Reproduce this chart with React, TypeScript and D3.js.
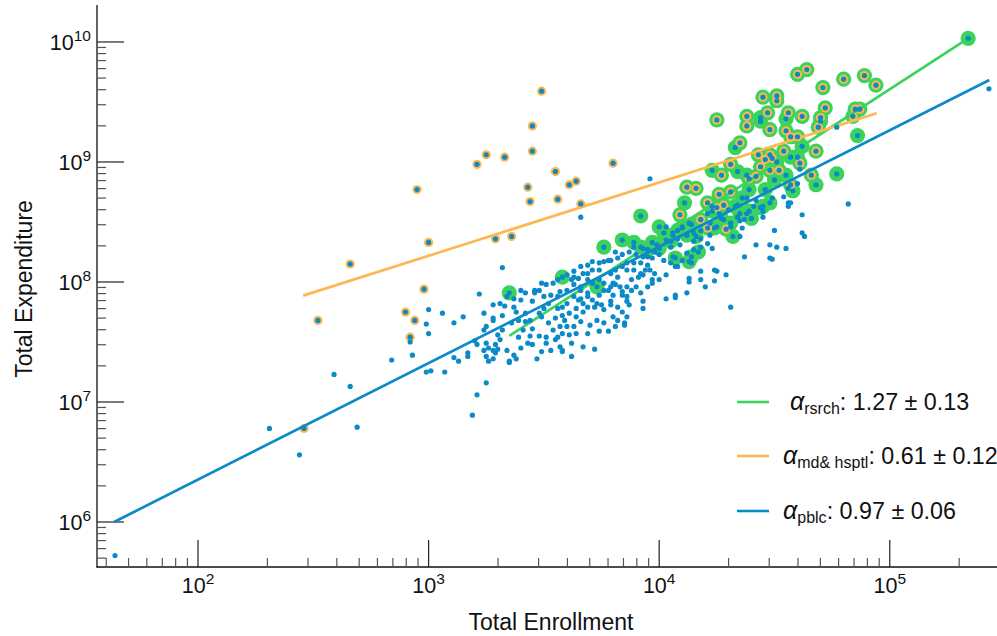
import React, {useEffect, useRef} from 'react'
import * as d3 from 'd3'

// every point is [log10 enrollment, log10 expenditure]

// plain public institutions (blue dot only)
const publicPts: number[][] = [
  [1.64, 5.72], [2.31, 6.78], [2.44, 6.56], [2.59, 7.23], [2.66, 7.13], [2.69, 6.79], [2.84, 7.35],
  [2.93, 7.39], [2.92, 7.5], [2.99, 7.65], [3.0, 7.57], [3.0, 7.77], [2.99, 7.25], [3.01, 7.26],
  [3.06, 7.74], [3.11, 7.66], [3.15, 7.71], [3.07, 7.25], [3.11, 7.37], [3.13, 7.34], [3.17, 7.41],
  [3.17, 7.38], [3.2, 7.51], [3.21, 7.48], [3.22, 7.9], [3.24, 7.74], [3.28, 7.68], [3.28, 7.81],
  [3.32, 7.72], [3.33, 7.8], [3.3, 7.56], [3.29, 7.48], [3.26, 7.45], [3.28, 7.43], [3.3, 7.44],
  [3.25, 7.38], [3.28, 7.36], [3.26, 7.34], [3.25, 7.16], [3.21, 7.06], [3.19, 6.89], [3.35, 7.33],
  [3.66, 8.54], [3.32, 8.12], [3.46, 7.91], [3.96, 8.86], [5.43, 9.61], [4.77, 9.29], [4.82, 8.65],
  [4.31, 7.79],
  [4.61, 8.94], [4.54, 8.71], [4.56, 8.66], [4.57, 8.66], [4.56, 8.63], [4.62, 8.56], [4.45, 8.54],
  [4.35, 8.51], [4.37, 8.52], [4.36, 8.45], [4.35, 8.38], [4.5, 8.43], [4.62, 8.41], [4.63, 8.38],
  [4.42, 8.31], [4.48, 8.31], [4.51, 8.29], [4.55, 8.28], [4.37, 8.21], [4.48, 8.2], [4.49, 8.19],
  [4.24, 8.1], [4.25, 8.09], [4.29, 8.06], [4.18, 8.09], [4.18, 8.02], [4.2, 7.96], [4.13, 8.03],
  [4.13, 8.0], [4.07, 7.89], [4.07, 7.87], [4.03, 7.86], [3.93, 7.84], [3.93, 7.78], [3.85, 7.66],
  [3.85, 7.64], [3.78, 7.59], [3.72, 7.44], [3.67, 7.46], [3.58, 7.43], [3.58, 7.42], [3.47, 7.36],
  [3.37, 7.39], [3.35, 7.34], [3.38, 7.36],
  [3.25, 7.63], [3.28, 7.7], [3.37, 7.79], [3.38, 7.75], [3.4, 7.85], [3.39, 7.68], [3.42, 7.67],
  [3.41, 7.6], [3.45, 7.84], [3.45, 7.61], [3.44, 7.55], [3.48, 7.55], [3.49, 7.71], [3.48, 7.74],
  [3.5, 7.78], [3.52, 7.66], [3.54, 7.6], [3.51, 7.54], [3.55, 7.7], [3.57, 7.63], [3.61, 7.56],
  [3.6, 7.63], [3.58, 7.72], [3.58, 7.79], [3.56, 7.88], [3.54, 7.99], [3.57, 7.92], [3.6, 7.93],
  [3.62, 8.02], [3.63, 8.04], [3.65, 8.03], [3.66, 7.96], [3.63, 7.88], [3.66, 7.86], [3.69, 7.91],
  [3.67, 7.82], [3.69, 7.79], [3.64, 7.71], [3.66, 7.67], [3.7, 7.64], [3.63, 7.63], [3.71, 7.99],
  [3.71, 8.1], [3.69, 8.14], [3.74, 8.02], [3.76, 7.99], [3.74, 7.89], [3.78, 7.93], [3.79, 7.96],
  [3.8, 7.89], [3.75, 7.81], [3.79, 7.81], [3.82, 7.79], [3.83, 7.96], [3.84, 7.89], [3.86, 7.88],
  [3.86, 7.84], [3.84, 7.75], [3.87, 7.81], [3.88, 8.02], [3.91, 8.04], [3.93, 8.06], [3.89, 8.1],
  [3.86, 8.1], [3.82, 8.04], [3.79, 8.07], [3.76, 8.17], [3.79, 8.18], [3.82, 8.2], [3.86, 8.16],
  [3.89, 8.16], [3.92, 8.16], [3.95, 8.14], [3.95, 8.21], [3.97, 8.2], [3.96, 8.1], [3.98, 8.07],
  [4.0, 8.02], [3.97, 7.99], [3.93, 8.28], [3.95, 8.27], [3.98, 8.25], [4.0, 8.23], [4.02, 8.18],
  [4.05, 8.16], [4.06, 8.21], [4.08, 8.13], [4.1, 8.18], [4.14, 8.16], [4.12, 8.24], [4.15, 8.27],
  [4.18, 8.29], [4.21, 8.32], [4.18, 8.36], [4.22, 8.39], [4.23, 8.28], [4.15, 8.34], [4.09, 8.31],
  [4.05, 8.29], [4.03, 8.35], [4.08, 8.36], [4.12, 8.39], [4.15, 8.41], [4.1, 8.45], [4.13, 8.49],
  [4.18, 8.43], [4.22, 8.49], [4.25, 8.46], [4.28, 8.52], [4.31, 8.46], [4.26, 8.57], [4.3, 8.6],
  [4.34, 8.54], [4.38, 8.57], [4.41, 8.63], [4.45, 8.59], [4.49, 8.7], [4.56, 8.78], [4.6, 8.82],
  [4.42, 8.68], [4.38, 8.7], [4.34, 8.64], [4.23, 8.63], [4.21, 8.57], [4.18, 8.52], [4.03, 8.46],
  [4.06, 8.41], [3.89, 8.29], [3.9, 8.23], [3.87, 8.25], [3.84, 8.23], [3.81, 8.25], [3.78, 8.18],
  [3.74, 8.16], [3.71, 8.17], [3.69, 8.07], [3.66, 8.13], [3.63, 8.09], [3.6, 8.06], [3.56, 8.02],
  [3.53, 7.89], [3.5, 7.88], [3.49, 7.99], [3.46, 7.93], [3.42, 7.91], [3.4, 7.93], [3.37, 7.86],
  [3.34, 7.88], [3.31, 7.82], [3.24, 7.6], [3.25, 7.49], [3.29, 7.41], [3.34, 7.43], [3.4, 7.45],
  [3.45, 7.48], [3.49, 7.42], [3.53, 7.43], [3.57, 7.46], [3.62, 7.49], [3.62, 7.38], [3.56, 7.54],
  [3.24, 7.43],
  [3.74, 8.1], [3.81, 8.1], [3.84, 8.13], [3.93, 8.21], [3.94, 8.1], [3.92, 8.07], [4.03, 8.06],
  [4.07, 8.13], [4.24, 8.01], [4.12, 7.91], [3.86, 7.96], [3.84, 7.92], [3.81, 7.98], [3.76, 7.93],
  [3.69, 8.02], [3.67, 8.07], [3.63, 7.98], [3.66, 7.93], [3.69, 7.88], [3.65, 7.85], [3.6, 7.82],
  [3.73, 7.82], [3.79, 7.84], [3.76, 7.77], [3.8, 7.71], [3.67, 7.75],
  [3.48, 7.93], [3.51, 7.98], [3.52, 7.82], [3.56, 7.78], [3.61, 7.74], [3.59, 7.68], [3.64, 7.78],
  [3.72, 7.79], [3.73, 7.68], [3.76, 7.66], [3.74, 7.59], [3.81, 7.63], [3.82, 7.68], [3.86, 7.71],
  [3.88, 7.93], [3.9, 7.96], [3.92, 7.91], [3.95, 7.96], [3.97, 8.02], [3.8, 7.99], [3.71, 7.85],
  [3.42, 7.74], [3.44, 7.68], [3.36, 7.66], [3.32, 7.6], [3.31, 7.52], [3.39, 7.54], [3.43, 7.49],
  [3.51, 7.49], [3.55, 7.52], [3.58, 7.57], [3.64, 7.57], [3.69, 7.57],
]

// research institutions (green disc)
const researchPts: number[][] = [
  [5.34, 10.03], [4.44, 9.37], [4.44, 9.34], [4.55, 9.36], [4.7, 9.34], [4.86, 9.22], [4.62, 9.13],
  [4.33, 9.12], [4.51, 9.0], [4.6, 9.04], [4.57, 9.04], [4.34, 8.92], [4.23, 8.93], [4.77, 8.9],
  [4.68, 8.81], [4.38, 8.89], [4.39, 8.77], [4.46, 8.77], [4.36, 8.7], [4.48, 8.66], [4.39, 8.59],
  [4.45, 8.63], [4.11, 8.66], [3.92, 8.55], [3.76, 8.29], [3.84, 8.35], [3.58, 8.04], [3.73, 7.96],
  [4.0, 8.46], [3.92, 8.29], [3.97, 8.33], [4.08, 8.43], [4.1, 8.46], [4.17, 8.25], [4.07, 8.2],
  [3.35, 7.91], [3.89, 8.33], [4.02, 8.41], [4.58, 8.76], [4.4, 8.53], [4.44, 8.62], [4.23, 8.59],
  [4.13, 8.17], [3.99, 8.31], [4.14, 8.21],
  [4.33, 8.63], [4.24, 8.45], [4.27, 8.53], [4.31, 8.49], [4.32, 8.38], [4.35, 8.57], [4.14, 8.48],
  [4.12, 8.39], [4.16, 8.38], [4.05, 8.34], [4.0, 8.28], [3.95, 8.27], [4.06, 8.39], [4.5, 8.85],
  [4.55, 8.89],
]

// research institutions that also run a medical school & hospital (green disc + orange ring)
const researchHospitalPts: number[][] = [
  [4.6, 9.73], [4.64, 9.77], [4.71, 9.62], [4.8, 9.69], [4.89, 9.72], [4.94, 9.64], [4.45, 9.54],
  [4.51, 9.55], [4.51, 9.51], [4.25, 9.35], [4.38, 9.38], [4.38, 9.3], [4.47, 9.41], [4.48, 9.27],
  [4.56, 9.41], [4.62, 9.38], [4.55, 9.26], [4.72, 9.45], [4.7, 9.37], [4.69, 9.29], [4.85, 9.44],
  [4.87, 9.44], [4.84, 9.38], [4.57, 9.21], [4.6, 9.21], [4.68, 9.09], [4.54, 9.09], [4.35, 9.16],
  [4.43, 9.06], [4.48, 9.06], [4.49, 9.03], [4.46, 9.02], [4.44, 8.96], [4.48, 8.93], [4.52, 8.93],
  [4.61, 8.99], [4.31, 8.98], [4.27, 8.89], [4.16, 8.78], [4.66, 8.89], [4.57, 8.81], [4.42, 8.88],
  [4.26, 8.73], [4.31, 8.75], [4.21, 8.66], [4.28, 8.64], [4.12, 8.79], [4.09, 8.56], [4.25, 8.62],
  [4.18, 8.52], [4.21, 8.45], [4.29, 8.44], [4.39, 8.86],
]

// medical & hospital institutions (orange ring)
const hospitalPts: number[][] = [
  [3.49, 9.59], [3.45, 9.3], [3.45, 9.09], [3.25, 9.06], [3.33, 9.04], [3.21, 8.98], [3.8, 8.99],
  [3.55, 8.92], [2.95, 8.77], [3.43, 8.79], [3.64, 8.84], [3.61, 8.81], [3.44, 8.67], [3.56, 8.69],
  [3.66, 8.65], [3.0, 8.33], [3.29, 8.36], [3.36, 8.38], [2.66, 8.15], [2.98, 7.94], [2.52, 7.68],
  [2.9, 7.75], [2.94, 7.68], [2.92, 7.54], [2.46, 6.78],
]

// fitted power laws: endpoints [log10 enrollment, log10 expenditure]
const fitKeys = ['rsrch', 'md& hsptl', 'pblc']
const fitAlpha = ['1.27', '0.61', '0.97']
const fitErr = ['0.13', '0.12', '0.06']
const fitStart = [[3.35, 7.55], [2.456, 7.886], [1.636, 6.0]]
const fitEnd = [[5.34, 10.03], [4.943, 9.406], [5.432, 9.683]]

const xMajors = [2, 3, 4, 5]
const yMajors = [6, 7, 8, 9, 10]

const BLUE = '#0b8ac7'
const GREEN = '#3cd35d'
const ORANGE = '#fcb851'
const fitColors = [GREEN, ORANGE, BLUE]
const FONT = '"Liberation Sans", Arial, Helvetica, sans-serif'

function App() {
  const ref = useRef<SVGSVGElement>(null)

  useEffect(() => {
    const svg = d3.select(ref.current)
    svg.selectAll('*').remove()

    const x = d3.scaleLog().domain([10 ** 1.562, 10 ** 5.465]).range([97, 997])
    const y = d3.scaleLog().domain([10 ** 5.625, 10 ** 10.308]).range([567, 5])
    const px = (p: number[]) => x(10 ** p[0])
    const py = (p: number[]) => y(10 ** p[1])

    // axes
    const axes = svg.append('g')
    axes.append('line').attr('x1', 97).attr('x2', 97).attr('y1', 5).attr('y2', 567.5)
      .attr('stroke', '#111').attr('stroke-width', 1.3)
    axes.append('line').attr('x1', 96.5).attr('x2', 997).attr('y1', 567).attr('y2', 567)
      .attr('stroke', '#111').attr('stroke-width', 1.3)

    for (let e = 5; e <= 10; e++) {
      for (let m = 1; m <= 9; m++) {
        const v = m * 10 ** e
        const yy = y(v)
        if (yy > 567 || yy < 8) continue
        axes.append('line').attr('x1', 97).attr('x2', m === 1 ? 124 : 106)
          .attr('y1', yy).attr('y2', yy)
          .attr('stroke', m === 1 ? '#222' : '#555').attr('stroke-width', 1.2)
      }
    }
    for (let e = 1; e <= 5; e++) {
      for (let m = 1; m <= 9; m++) {
        const v = m * 10 ** e
        const xx = x(v)
        if (xx < 100 || xx > 997) continue
        axes.append('line').attr('x1', xx).attr('x2', xx)
          .attr('y1', 567).attr('y2', m === 1 ? 540 : 558)
          .attr('stroke', m === 1 ? '#222' : '#555').attr('stroke-width', 1.2)
      }
    }

    yMajors.forEach(e => {
      const t = axes.append('text').attr('x', 91).attr('y', y(10 ** e) + 8)
        .attr('text-anchor', 'end').attr('font-family', FONT).attr('font-size', 21.5).attr('fill', '#111')
      t.append('tspan').text('10')
      t.append('tspan').attr('dy', -9).attr('font-size', 15.5).text(String(e))
    })
    xMajors.forEach(e => {
      const t = axes.append('text').attr('x', x(10 ** e)).attr('y', 593)
        .attr('text-anchor', 'middle').attr('font-family', FONT).attr('font-size', 21.5).attr('fill', '#111')
      t.append('tspan').text('10')
      t.append('tspan').attr('dy', -9).attr('font-size', 15.5).text(String(e))
    })

    svg.append('text').attr('x', 551).attr('y', 630).attr('text-anchor', 'middle')
      .attr('font-family', FONT).attr('font-size', 23).attr('fill', '#111').text('Total Enrollment')
    svg.append('text').attr('transform', 'translate(32,289) rotate(-90)').attr('text-anchor', 'middle')
      .attr('font-family', FONT).attr('font-size', 23).attr('fill', '#111').text('Total Expenditure')

    // markers
    const marks = svg.append('g')
    marks.selectAll('circle.rs').data([...researchPts, ...researchHospitalPts]).enter()
      .append('circle').attr('class', 'rs')
      .attr('cx', px).attr('cy', py).attr('r', 7.6).attr('fill', GREEN)
    marks.selectAll('circle.hs').data([...hospitalPts, ...researchHospitalPts]).enter()
      .append('circle').attr('class', 'hs')
      .attr('cx', px).attr('cy', py).attr('r', 4.6).attr('fill', ORANGE)

    // fit lines
    const line = d3.line<number[]>().x(px).y(py)
    fitKeys.forEach((_, i) => {
      svg.append('path').attr('d', line([fitStart[i], fitEnd[i]]))
        .attr('stroke', fitColors[i]).attr('stroke-width', 2.7).attr('fill', 'none')
    })

    svg.append('g').selectAll('circle')
      .data([...publicPts, ...researchPts, ...researchHospitalPts, ...hospitalPts]).enter()
      .append('circle').attr('cx', px).attr('cy', py).attr('r', 2.6).attr('fill', BLUE)

    // legend
    const ly = [402, 456, 511]
    const lx = [790, 783, 783]
    fitKeys.forEach((k, i) => {
      svg.append('line').attr('x1', 737).attr('x2', 769).attr('y1', ly[i]).attr('y2', ly[i])
        .attr('stroke', fitColors[i]).attr('stroke-width', 2.6)
      const t = svg.append('text').attr('x', lx[i]).attr('y', ly[i] + 8)
        .attr('font-family', FONT).attr('font-size', 23.3).attr('fill', '#111')
      t.append('tspan').attr('font-style', 'italic').attr('font-size', 25).text('α')
      t.append('tspan').attr('font-size', 16).attr('dy', 4).text(k)
      t.append('tspan').attr('dy', -4).text(`: ${fitAlpha[i]} ± ${fitErr[i]}`)
    })
  }, [])

  return (
    <div style={{position: 'absolute', left: 0, top: 0}}>
      <svg ref={ref} width={997} height={636} style={{display: 'block', background: '#fff'}} />
    </div>
  )
}

export default App
